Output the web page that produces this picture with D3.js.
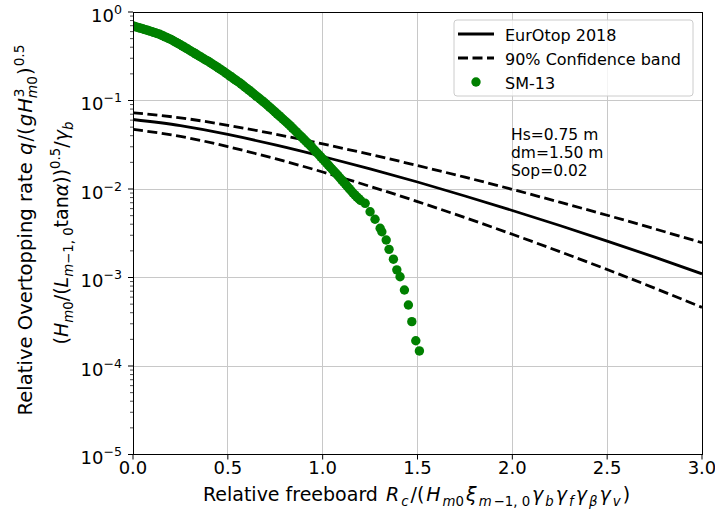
<!DOCTYPE html>
<html>
<head>
<meta charset="utf-8">
<script src="https://cdn.jsdelivr.net/npm/d3@7"></script>
<style>
  body { margin: 0; background: #fff; }
  svg { display: block; }
  text { font-family: "DejaVu Sans", sans-serif; fill: #000; }
</style>
</head>
<body>
<svg id="chart" width="715" height="513"></svg>
<script>
// ---- data ----
const xTicks = [0, 0.5, 1.0, 1.5, 2.0, 2.5, 3.0];
const xTickLabels = ["0.0", "0.5", "1.0", "1.5", "2.0", "2.5", "3.0"];
const yTickExponents = [0, -1, -2, -3, -4, -5];
const yTickLabels = ["0", "\u22121", "\u22122", "\u22123", "\u22124", "\u22125"];

// relative freeboard at which the design curves are tabulated
const xCurve = [0, 0.25, 0.5, 0.75, 1.0, 1.25, 1.5, 1.75, 2.0, 2.25, 2.5, 2.75, 3.0];
const qEurOtop = [0.0610, 0.0520, 0.0413, 0.0315, 0.0233, 0.0169, 0.0120, 0.00834, 0.00572, 0.00387, 0.00258, 0.00170, 0.00110];
const qUpper   = [0.0728, 0.0637, 0.0524, 0.0417, 0.0323, 0.0246, 0.0184, 0.0136, 0.0099, 0.0071, 0.00505, 0.00355, 0.00247];
const qLower   = [0.0472, 0.0393, 0.0301, 0.0220, 0.01557, 0.01071, 0.00721, 0.00475, 0.00308, 0.00196, 0.00123, 0.000758, 0.00046];

// SM-13 measurements
const smX = [
  0.00, 0.01, 0.02, 0.03, 0.04, 0.05, 0.06, 0.07, 0.08, 0.09,
  0.10, 0.11, 0.12, 0.13, 0.14, 0.15, 0.16, 0.17, 0.18, 0.19,
  0.20, 0.21, 0.22, 0.23, 0.24, 0.25, 0.26, 0.27, 0.28, 0.29,
  0.30, 0.31, 0.32, 0.33, 0.34, 0.35, 0.36, 0.37, 0.38, 0.39,
  0.40, 0.41, 0.42, 0.43, 0.44, 0.45, 0.46, 0.47, 0.48, 0.49,
  0.50, 0.51, 0.52, 0.53, 0.54, 0.55, 0.56, 0.57, 0.58, 0.59,
  0.60, 0.61, 0.62, 0.63, 0.64, 0.65, 0.66, 0.67, 0.68, 0.69,
  0.70, 0.71, 0.72, 0.73, 0.74, 0.75, 0.76, 0.77, 0.78, 0.79,
  0.80, 0.81, 0.82, 0.83, 0.84, 0.85, 0.86, 0.87, 0.88, 0.89,
  0.90, 0.91, 0.92, 0.93, 0.94, 0.95, 0.96, 0.97, 0.98, 0.99,
  1.00, 1.01, 1.02, 1.03, 1.04, 1.05, 1.06, 1.07, 1.08, 1.09,
  1.10, 1.11, 1.12, 1.13, 1.14, 1.15, 1.16, 1.17, 1.18, 1.19,
  1.20, 1.224, 1.250, 1.276, 1.303, 1.312, 1.335, 1.350, 1.373, 1.391,
  1.408, 1.431, 1.452, 1.470, 1.491, 1.510
];
const smQ = [
  0.695, 0.685, 0.675, 0.665, 0.656, 0.646, 0.637, 0.627, 0.618, 0.608,
  0.599, 0.589, 0.579, 0.569, 0.560, 0.548, 0.536, 0.524, 0.512, 0.500,
  0.489, 0.476, 0.463, 0.450, 0.438, 0.426, 0.414, 0.402, 0.390, 0.379,
  0.368, 0.357, 0.347, 0.337, 0.327, 0.317, 0.308, 0.299, 0.290, 0.282,
  0.274, 0.265, 0.257, 0.249, 0.241, 0.233, 0.226, 0.218, 0.211, 0.204,
  0.197, 0.190, 0.184, 0.177, 0.171, 0.165, 0.160, 0.154, 0.148, 0.142,
  0.137, 0.132, 0.127, 0.122, 0.117, 0.112, 0.108, 0.104, 0.0997, 0.0957,
  0.0918, 0.0879, 0.0842, 0.0806, 0.0771, 0.0738, 0.0706, 0.0675, 0.0646, 0.0618,
  0.0591, 0.0566, 0.0541, 0.0516, 0.0491, 0.0467, 0.0445, 0.0424, 0.0404, 0.0385,
  0.0366, 0.0349, 0.0332, 0.0316, 0.0301, 0.0285, 0.0270, 0.0257, 0.0244, 0.0231,
  0.0219, 0.0208, 0.0197, 0.0186, 0.0176, 0.0167, 0.0158, 0.0150, 0.0142, 0.0134,
  0.0127, 0.0120, 0.01136, 0.0107, 0.01010, 0.00955, 0.00902, 0.00857, 0.00814, 0.00777,
  0.00741, 0.00689, 0.00554, 0.00455, 0.00360, 0.00329, 0.00265, 0.00208, 0.00161, 0.00122,
  0.00102, 0.000722, 0.000489, 0.000317, 0.000193, 0.000148
];

const annotation = ["Hs=0.75 m", "dm=1.50 m", "Sop=0.02"];

// ---- layout ----
const plot = { left: 133, right: 702, top: 12, bottom: 454.5 };

const svg = d3.select("#chart");

const x = d3.scaleLinear().domain([0, 3]).range([plot.left, plot.right]);
const y = d3.scaleLog().domain([1e-5, 1]).range([plot.bottom, plot.top]);

// renders a run of mathtext-like pieces: [string, flags] where flags may hold
// "i" italic, "_" subscript, "^" superscript, "<" stack under the previous piece,
// "m" math piece (gets the extra inter-symbol gap)
function mathText(textSel, parts, size, gap = 0) {
  let cur = 0, prevLen = 0;
  parts.forEach(([str, flags = ""]) => {
    const isSub = flags.includes("_"), isSup = flags.includes("^");
    const target = isSub ? 0.24 * size : isSup ? -0.42 * size : 0;
    const ts = textSel.append("tspan")
      .text(str)
      .attr("font-size", (isSub || isSup) ? size * 0.7 : size)
      .attr("font-style", flags.includes("i") ? "italic" : "normal")
      .attr("dy", target - cur);
    let dx = flags.includes("m") ? gap : 0;
    if (flags.includes("<")) dx -= prevLen + gap;
    if (dx) ts.attr("dx", dx);
    cur = target;
    prevLen = ts.node().getComputedTextLength();
  });
}

// clip region for the data
svg.append("defs").append("clipPath").attr("id", "plotClip")
  .append("rect")
  .attr("x", plot.left).attr("y", plot.top)
  .attr("width", plot.right - plot.left).attr("height", plot.bottom - plot.top);

// ---- grid ----
const grid = svg.append("g").attr("stroke", "#c8c8c8").attr("stroke-width", 1)
  .attr("shape-rendering", "crispEdges");
grid.selectAll("line.gx").data(xTicks).join("line")
  .attr("x1", d => x(d)).attr("x2", d => x(d))
  .attr("y1", plot.top).attr("y2", plot.bottom);
grid.selectAll("line.gy").data(yTickExponents).join("line")
  .attr("y1", d => y(Math.pow(10, d))).attr("y2", d => y(Math.pow(10, d)))
  .attr("x1", plot.left).attr("x2", plot.right);

// ---- curves ----
const dataG = svg.append("g").attr("clip-path", "url(#plotClip)");
const line = d3.line().x(d => x(d[0])).y(d => y(d[1])).curve(d3.curveNatural);
const curveSeries = [
  { q: qUpper, dash: "10,4.5" },
  { q: qLower, dash: "10,4.5" },
  { q: qEurOtop, dash: null }
];
curveSeries.forEach(s => {
  dataG.append("path")
    .datum(xCurve.map((xv, i) => [xv, s.q[i]]))
    .attr("d", line)
    .attr("fill", "none")
    .attr("stroke", "#000")
    .attr("stroke-width", 2.8)
    .attr("stroke-dasharray", s.dash);
});

// ---- SM-13 points ----
dataG.selectAll("circle.sm").data(smX.map((xv, i) => [xv, smQ[i]])).join("circle")
  .attr("cx", d => x(d[0])).attr("cy", d => y(d[1]))
  .attr("r", 4.7)
  .attr("fill", "#008000");

// ---- frame ----
svg.append("rect")
  .attr("x", plot.left).attr("y", plot.top)
  .attr("width", plot.right - plot.left).attr("height", plot.bottom - plot.top)
  .attr("fill", "none").attr("stroke", "#000").attr("stroke-width", 1)
  .attr("shape-rendering", "crispEdges");

// ---- x axis ticks ----
const axes = svg.append("g");
axes.selectAll("line.xt").data(xTicks).join("line")
  .attr("x1", d => x(d)).attr("x2", d => x(d))
  .attr("y1", plot.bottom).attr("y2", plot.bottom + 5)
  .attr("stroke", "#000").attr("stroke-width", 1);
axes.selectAll("text.xl").data(xTicks).join("text")
  .attr("x", d => x(d)).attr("y", 473.5)
  .attr("text-anchor", "middle").attr("font-size", 18)
  .text((d, i) => xTickLabels[i]);

// ---- y axis ticks (log) ----
axes.selectAll("line.yt").data(yTickExponents).join("line")
  .attr("x1", plot.left - 5).attr("x2", plot.left)
  .attr("y1", d => y(Math.pow(10, d))).attr("y2", d => y(Math.pow(10, d)))
  .attr("stroke", "#000").attr("stroke-width", 1);
const minor = [];
for (let e = -5; e < 0; e++) for (let k = 2; k <= 9; k++) minor.push(k * Math.pow(10, e));
axes.selectAll("line.ym").data(minor).join("line")
  .attr("x1", plot.left - 3).attr("x2", plot.left)
  .attr("y1", d => y(d)).attr("y2", d => y(d))
  .attr("stroke", "#000").attr("stroke-width", 0.7);
yTickExponents.forEach((e, i) => {
  const t = axes.append("text")
    .attr("x", 122).attr("y", y(Math.pow(10, e)) + 9.5)
    .attr("text-anchor", "end").attr("font-size", 18);
  mathText(t, [["10"], [yTickLabels[i], "^"]], 18);
});

// ---- axis titles ----
const xt = svg.append("text").attr("x", 416.5).attr("y", 501)
  .attr("text-anchor", "middle").attr("font-size", 19);
mathText(xt, [
  ["Relative freeboard "], ["R", "im"], ["c", "i_m"], ["/(", "m"], ["H", "im"], ["m", "i_m"], ["0", "_"],
  ["\u03be", "im"], ["m", "i_m"], ["\u22121, 0", "_m"],
  ["\u03b3", "im"], ["b", "i_m"], ["\u03b3", "im"], ["f", "i_m"], ["\u03b3", "im"], ["\u03b2", "i_m"],
  ["\u03b3", "im"], ["v", "i_m"], [")", "m"]
], 19, 2.0);

const yl1 = svg.append("g").attr("transform", "translate(32,230) rotate(-90)")
  .append("text").attr("text-anchor", "middle").attr("font-size", 19.6);
mathText(yl1, [
  ["Relative Overtopping rate "], ["q", "im"], ["/(", "m"], ["g", "im"], ["H", "im"],
  ["3", "^m"], ["m", "i_<"], ["0", "_"], [")", "m"], ["0.5", "^m"]
], 19.6, 1.0);

const yl2 = svg.append("g").attr("transform", "translate(68,233) rotate(-90)")
  .append("text").attr("text-anchor", "middle").attr("font-size", 19);
mathText(yl2, [
  ["("], ["H", "i"], ["m", "i_"], ["0", "_"], ["/("], ["L", "i"], ["m", "i_"], ["\u22121, 0", "_"],
  ["tan"], ["\u03b1", "i"], ["))"], ["0.5", "^"], ["/"], ["\u03b3", "i"], ["b", "i_"]
], 19);

// ---- annotation ----
annotation.forEach((s, i) => {
  svg.append("text").attr("x", 511).attr("y", 140 + i * 18)
    .attr("font-size", 15.5).text(s);
});

// ---- legend ----
const lg = svg.append("g");
lg.append("rect")
  .attr("x", 454).attr("y", 20).attr("width", 239).attr("height", 76).attr("rx", 3)
  .attr("fill", "#fff").attr("fill-opacity", 0.8)
  .attr("stroke", "#cccccc").attr("stroke-width", 1);
const legendItems = [
  { label: "EurOtop 2018", kind: "solid" },
  { label: "90% Confidence band", kind: "dash" },
  { label: "SM-13", kind: "dot" }
];
legendItems.forEach((it, i) => {
  const cy = 34 + i * 24;
  if (it.kind === "dot") {
    lg.append("circle").attr("cx", 476).attr("cy", cy).attr("r", 4.7).attr("fill", "#008000");
  } else {
    lg.append("line").attr("x1", 458).attr("x2", 494).attr("y1", cy).attr("y2", cy)
      .attr("stroke", "#000").attr("stroke-width", 2.8)
      .attr("stroke-dasharray", it.kind === "dash" ? "10,4.5" : null);
  }
  lg.append("text").attr("x", 505).attr("y", cy + 6.5).attr("font-size", 16).text(it.label);
});
</script>
</body>
</html>
